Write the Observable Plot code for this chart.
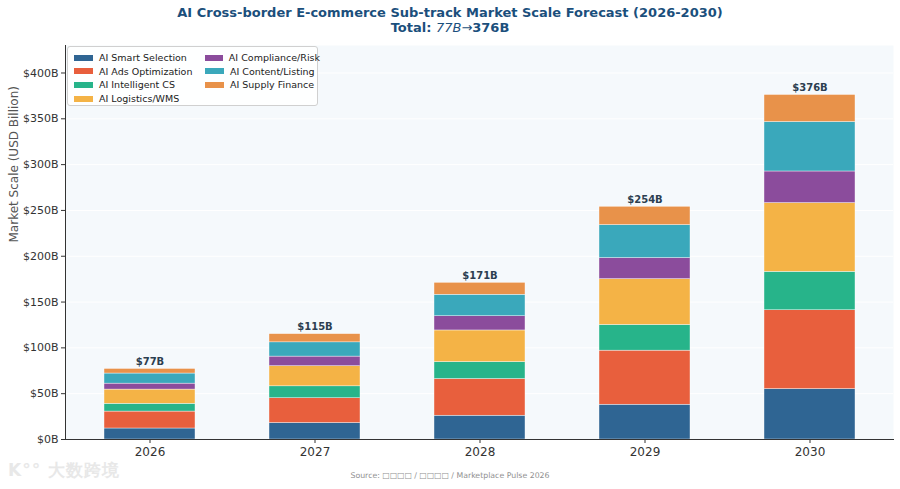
<!DOCTYPE html>
<html><head><meta charset="utf-8">
<script src="https://cdn.jsdelivr.net/npm/d3@7"></script>
<script src="https://cdn.jsdelivr.net/npm/@observablehq/plot@0.6"></script>
<style>
body{margin:0;background:#fff;font-family:"DejaVu Sans",sans-serif;}
#wrap{position:relative;width:900px;height:489px;overflow:hidden;}
#title{position:absolute;top:5px;left:0;width:900px;text-align:center;color:#1b4f7c;font-size:13px;font-weight:bold;line-height:15px;}
#title .it{font-style:italic;font-weight:normal;}
#chart{position:absolute;top:40px;left:0;}
#legend{position:absolute;left:67px;top:46px;width:251px;height:60px;background:rgba(255,255,255,0.9);border:1px solid #d0d0d0;border-radius:3px;box-sizing:border-box;padding:4px 0 0 6px;display:grid;grid-auto-flow:column;grid-template-rows:repeat(4,13.6px);grid-template-columns:131px 115px;font-size:9.5px;color:#222;}
#legend .it{display:flex;align-items:center;white-space:nowrap;}
#legend .sw{display:inline-block;width:19px;height:6px;margin-right:6px;}
#source{position:absolute;top:471px;left:0;width:900px;text-align:center;font-size:7.8px;color:#909090;}
#wm{position:absolute;top:459px;left:8px;font-size:17px;color:#e8e8e8;font-weight:bold;letter-spacing:1px;}
</style></head>
<body>
<div id="wrap">
  <div id="title">AI Cross-border E-commerce Sub-track Market Scale Forecast (2026-2030)<br>Total: <span class="it">77B→</span>376B</div>
  <div id="chart"></div>
  <div id="legend"></div>
  <div id="wm">K°° 大数跨境</div>
  <div id="source">Source: □□□□ / □□□□ / Marketplace Pulse 2026</div>
</div>
<script>
const years = ["2026", "2027", "2028", "2029", "2030"];
const series = ["AI Smart Selection", "AI Ads Optimization", "AI Intelligent CS", "AI Logistics/WMS", "AI Compliance/Risk", "AI Content/Listing", "AI Supply Finance"];
const colors = ["#2f6593", "#e85f3d", "#27b48a", "#f4b346", "#8b4c9c", "#3aa8bb", "#e8924a"];
const smartSelection = [12, 18, 26, 38, 55];
const adsOptimization = [18.5, 27, 40, 59, 86];
const intelligentCS = [8.5, 13, 18.5, 28, 42];
const logisticsWMS = [15.5, 22, 34.5, 50, 75];
const complianceRisk = [6.5, 10.5, 15.5, 23, 34.5];
const contentListing = [11, 15.5, 23.5, 36, 54];
const supplyFinance = [5, 9, 13, 20, 29.5];
const totals = [77, 115, 171, 254, 376];
const yTicks = [0, 50, 100, 150, 200, 250, 300, 350, 400];

const seriesValues = [smartSelection, adsOptimization, intelligentCS, logisticsWMS, complianceRisk, contentListing, supplyFinance];
const rows = [];
years.forEach((y, i) => series.forEach((s, j) => rows.push({year: y, series: s, value: seriesValues[j][i]})));
const totalRows = years.map((y, i) => ({year: y, total: totals[i]}));

const plot = Plot.plot({
  width: 900,
  height: 449,
  marginTop: 5,
  marginBottom: 50,
  marginLeft: 65,
  marginRight: 7,
  style: {fontFamily: "DejaVu Sans, sans-serif", fontSize: "11px", color: "#333", background: "transparent"},
  x: {domain: years, paddingInner: 0.45, paddingOuter: 0.225, label: null},
  y: {domain: [0, 430], label: null},
  color: {domain: series, range: colors},
  marks: [
    Plot.frame({fill: "#f5f9fc", stroke: null}),
    Plot.gridY(yTicks, {stroke: "#ffffff", strokeOpacity: 1, strokeWidth: 1}),
    Plot.barY(rows, {x: "year", y: "value", fill: "series", stroke: "#ffffff", strokeWidth: 0.4}),
    Plot.text(totalRows, {x: "year", y: "total", text: d => `$${d.total}B`, dy: -7, fontWeight: "bold", fontSize: 10, fill: "#2c3e50"}),
    Plot.axisY(yTicks, {tickFormat: d => `$${d}B`, tickSize: 4, tickPadding: 3, fontSize: 11, label: null}),
    Plot.axisX({tickSize: 4, tickPadding: 4, fontSize: 12, label: null}),
    Plot.frame({anchor: "left", stroke: "#333"}),
    Plot.frame({anchor: "bottom", stroke: "#333"}),
    Plot.text(["Market Scale (USD Billion)"], {frameAnchor: "left", dx: -51, rotate: -90, fontSize: 12, fill: "#555"})
  ]
});
document.getElementById("chart").appendChild(plot);

const lg = document.getElementById("legend");
series.forEach((s, j) => {
  const it = document.createElement("div");
  it.className = "it";
  it.innerHTML = `<span class="sw" style="background:${colors[j]}"></span>${s}`;
  lg.appendChild(it);
});
</script>
</body></html>
